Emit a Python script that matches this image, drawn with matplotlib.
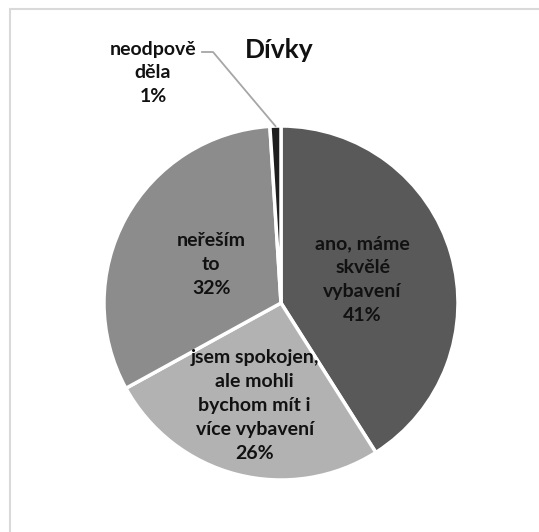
import numpy as np
import matplotlib.pyplot as plt
from matplotlib.patches import Rectangle

plt.rcParams["font.family"] = ["Lato", "DejaVu Sans"]

title = "Dívky"
labels = [
    "ano, máme\nskvělé\nvybavení",
    "jsem spokojen,\nale mohli\nbychom mít i\nvíce vybavení",
    "neřeším\nto",
    "neodpově\nděla",
]
shares = [41, 26, 32, 1]
colors = ["#595959", "#b2b2b2", "#8c8c8c", "#1e1e1e"]
label_dist = [0.48, 0.60, 0.45, None]

W, H = 539, 532
fig = plt.figure(figsize=(W / 100, H / 100), dpi=100)
ax = fig.add_axes([0, 0, 1, 1])

# chart frame (only top/left edges fall inside the image)
ax.add_patch(Rectangle((9.5, -20), W + 40, H - 8.5 + 20, fill=False,
                       edgecolor="#d9d9d9", linewidth=1.5))

cx, cy, R = 281, H - 303, 177
wedges, _ = ax.pie(shares, colors=colors, startangle=90, counterclock=False,
                   center=(cx, cy), radius=R, frame=True,
                   wedgeprops=dict(edgecolor="white", linewidth=2.5))
ax.set_xlim(0, W)
ax.set_ylim(0, H)
ax.set_aspect("equal")
ax.axis("off")

for w, lab, val, d in zip(wedges, labels, shares, label_dist):
    mid = np.deg2rad((w.theta1 + w.theta2) / 2)
    text = f"{lab}\n{val}%"
    if d is not None:
        ax.text(cx + d * R * np.cos(mid), cy + d * R * np.sin(mid), text,
                ha="center", va="center", fontsize=14, fontweight="bold",
                color="#111111", linespacing=1.5)
    else:
        # small slice: label outside with a leader line
        ex, ey = cx + R * np.cos(mid), cy + R * np.sin(mid)
        ax.text(153, H - 73, text, ha="center", va="center", fontsize=14,
                fontweight="bold", color="#111111", linespacing=1.5)
        ax.plot([202, 213, ex], [H - 52, H - 52, ey], color="#a6a6a6",
                linewidth=1.3)

ax.text(279, H - 50, title, ha="center", va="center", fontsize=19,
        fontweight="bold", color="#111111")

fig.savefig("out.png", dpi=100)
